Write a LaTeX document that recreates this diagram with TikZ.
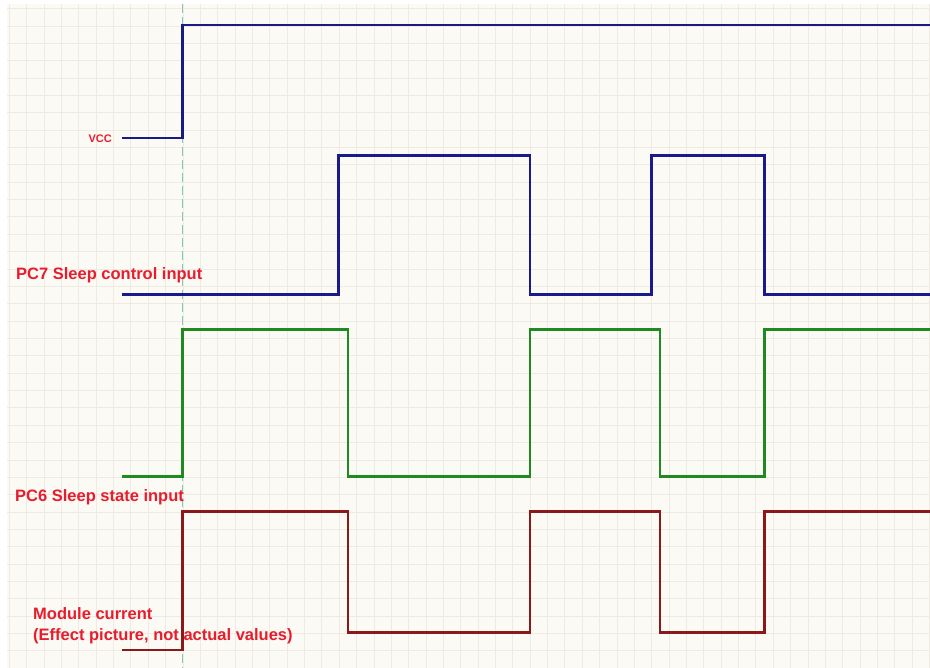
\documentclass[tikz,border=0pt]{standalone}
\usepackage{fontspec}
\setmainfont{Liberation Sans}
\usepackage{tikz}
\usetikzlibrary{positioning}

\definecolor{paper}{HTML}{FCFAF4}
\definecolor{gridline}{HTML}{EFEBE4}
\definecolor{marker}{HTML}{7CCBB4}
\definecolor{vccblue}{HTML}{1A1A86}
\definecolor{ctrlblue}{HTML}{1A1A8C}
\definecolor{stategreen}{HTML}{1F8A1F}
\definecolor{currred}{HTML}{8A1A1A}
\definecolor{labelred}{HTML}{E81C2C}

\begin{document}
\begin{tikzpicture}[
    x=1pt, y=-1pt,
    sig/.style={line width=2.3pt},
    lbl/.style={inner sep=0pt, text=labelred, font=\bfseries\fontsize{16.5}{21}\selectfont},
    small lbl/.style={lbl, font=\bfseries\fontsize{11}{13}\selectfont}
  ]
  \useasboundingbox (0,0) rectangle (930,668);
  % Background grid
  \fill[white] (0,0) rectangle (930,668);
  \fill[paper] (7,4) rectangle (930,668);
  \foreach \k in {0,...,53}
    \draw[gridline, line width=0.7pt] ({9.3+17.36*\k},4) -- ({9.3+17.36*\k},668);
  \foreach \k in {0,...,38}
    \draw[gridline, line width=0.7pt] (7,{8.5+17.36*\k}) -- (930,{8.5+17.36*\k});

  % Power-on marker
  \draw[marker, line width=1pt, dash pattern=on 9pt off 4pt] (182.5,4) -- (182.5,668);

  % VCC
  \node[small lbl, anchor=base west] (vcc) at (88.3,142.7) {VCC};
  \draw[sig, vccblue] (122,138) -- (182.5,138) -- (182.5,25) -- (930,25);

  % PC7 sleep control
  \node[lbl, anchor=base west] (pc7) at (16,280) {PC7 Sleep control input};
  \draw[sig, ctrlblue] (122,294.5) -- (338.5,294.5) -- (338.5,155.5) -- (530,155.5)
    -- (530,294.5) -- (651.5,294.5) -- (651.5,155.5) -- (764.5,155.5)
    -- (764.5,294.5) -- (930,294.5);

  % PC6 sleep state
  \node[lbl, anchor=base west] (pc6) at (15,501.5) {PC6 Sleep state input};
  \draw[sig, stategreen] (122,476.5) -- (182.5,476.5) -- (182.5,329.5) -- (348,329.5)
    -- (348,476.5) -- (530,476.5) -- (530,329.5) -- (660,329.5)
    -- (660,476.5) -- (764.5,476.5) -- (764.5,329.5) -- (930,329.5);

  % Module current
  \node[lbl, anchor=north west, align=left] (cur) at (33,607.5)
    {Module current\\(Effect picture, not actual values)};
  \draw[sig, currred] (122,650) -- (182.5,650) -- (182.5,511.5) -- (347.7,511.5)
    -- (347.7,632.5) -- (530,632.5) -- (530,511.5) -- (660,511.5)
    -- (660,632.5) -- (764.5,632.5) -- (764.5,511.5) -- (930,511.5);
\end{tikzpicture}
\end{document}
